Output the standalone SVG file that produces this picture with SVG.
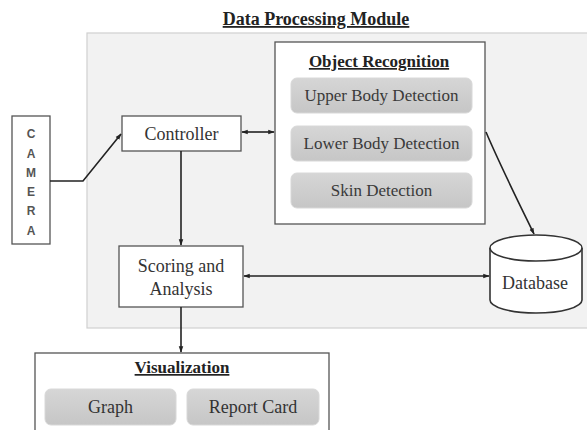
<svg xmlns="http://www.w3.org/2000/svg" width="587" height="430" viewBox="0 0 587 430">
<defs>
<marker id="ah" viewBox="0 0 10 10" refX="9" refY="5" markerWidth="4" markerHeight="4" orient="auto-start-reverse"><path d="M0,1.500 L10,5 L0,8.500 z" fill="#222"/></marker>
<linearGradient id="g" x1="0" y1="0" x2="0" y2="1"><stop offset="0" stop-color="#d6d6d6"/><stop offset="1" stop-color="#c6c6c6"/></linearGradient>
</defs>
<style>
text{font-family:"Liberation Serif","Times New Roman",serif;fill:#333;}
.t{font-size:18px;text-anchor:middle;}
.s{font-size:17px;text-anchor:middle;fill:#3a3a3a;}
.h{font-size:17px;font-weight:bold;text-anchor:middle;text-decoration:underline;fill:#222;}
.box{fill:#fff;stroke:#555;stroke-width:1.3;}
.sub{fill:url(#g);stroke:#d8d8d8;stroke-width:1;}
.cam{font-family:"Liberation Sans",Arial,sans-serif;font-size:12px;font-weight:bold;fill:#555;text-anchor:middle;}
.c{fill:none;stroke:#222;stroke-width:1.6;}
</style>
<rect width="587" height="430" fill="#fff"/>
<text class="h" x="316" y="25" style="font-size:18px">Data Processing Module</text>
<rect id="panel" x="87" y="33" width="505" height="295" fill="#f2f2f2" stroke="#d0d0d0" stroke-width="1.2"/>
<g id="camera">
<rect class="box" x="12" y="116" width="38" height="128"/>
<text class="cam" x="31" y="138">C</text>
<text class="cam" x="31" y="158">A</text>
<text class="cam" x="31" y="177">M</text>
<text class="cam" x="31" y="196">E</text>
<text class="cam" x="31" y="215">R</text>
<text class="cam" x="31" y="235">A</text>
</g>
<g id="controller">
<rect class="box" x="122" y="116" width="119" height="35"/>
<text class="t" x="181.500" y="140">Controller</text>
</g>
<g id="object-recognition">
<rect class="box" x="275" y="42" width="210" height="182"/>
<text class="h" x="379" y="67">Object Recognition</text>
<rect class="sub" x="291" y="78" width="181" height="35" rx="6"/>
<text class="s" x="381.500" y="101">Upper Body Detection</text>
<rect class="sub" x="291" y="126" width="181" height="35" rx="6"/>
<text class="s" x="381.500" y="149">Lower Body Detection</text>
<rect class="sub" x="291" y="173" width="181" height="35" rx="6"/>
<text class="s" x="381.500" y="196">Skin Detection</text>
</g>
<g id="scoring">
<rect class="box" x="119" y="246" width="124" height="61"/>
<text class="t" x="181" y="272">Scoring and</text>
<text class="t" x="181" y="295">Analysis</text>
</g>
<g id="database">
<path d="M490,248 L490,300 A46,13 0 0 0 582,300 L582,248" fill="#fff" stroke="#333" stroke-width="1.6"/>
<ellipse cx="536" cy="248" rx="46" ry="13" fill="#fff" stroke="#333" stroke-width="1.6"/>
<text class="t" x="535" y="289">Database</text>
</g>
<g id="visualization">
<rect class="box" x="35" y="353" width="294" height="90"/>
<text class="h" x="182" y="373">Visualization</text>
<rect class="sub" x="45" y="389" width="131" height="36" rx="6"/>
<text class="t" x="110.500" y="413">Graph</text>
<rect class="sub" x="187" y="389" width="132" height="36" rx="6"/>
<text class="t" x="253" y="413">Report Card</text>
</g>
<g id="connectors">
<path class="c" d="M50,181 L83,181 L121,134" marker-end="url(#ah)"/>
<path class="c" d="M242,132 L274,132" marker-start="url(#ah)" marker-end="url(#ah)"/>
<path class="c" d="M181,151 L181,245" marker-end="url(#ah)"/>
<path class="c" d="M244,276 L489,276" marker-start="url(#ah)" marker-end="url(#ah)"/>
<path class="c" d="M486,132 C500,165 516,197 534,234" marker-end="url(#ah)"/>
<path class="c" d="M181,307 L181,352" marker-end="url(#ah)"/>
</g>
</svg>
